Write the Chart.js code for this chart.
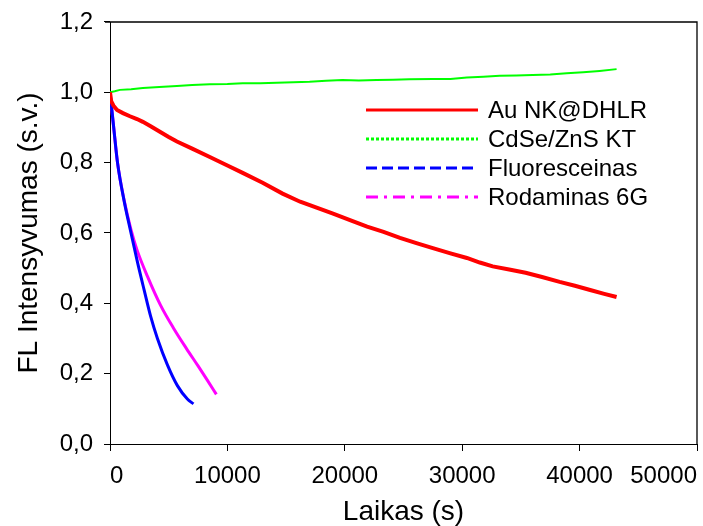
<!DOCTYPE html>
<html>
<head>
<meta charset="utf-8">
<script src="https://cdn.jsdelivr.net/npm/chart.js@4/dist/chart.umd.min.js"></script>
<style>
  html, body { margin: 0; padding: 0; background: #ffffff; }
  #wrap { width: 703px; height: 526px; }
</style>
</head>
<body>
<div id="wrap"><canvas id="c" width="703" height="526"></canvas></div>
<script>
// ---- data ----
const seriesNames = ['Au NK@DHLR', 'CdSe/ZnS KT', 'Fluoresceinas', 'Rodaminas 6G'];

const auTime  = [0, 100, 300, 600, 1100, 1700, 2300, 2800, 3500, 4250, 5000, 5700, 7000, 8500, 10000, 11300, 13000, 14700, 16200, 17600, 19000, 20500, 21900, 23300, 24700, 26100, 27500, 29000, 30400, 31500, 32600, 34000, 35400, 36800, 38300, 39600, 40900, 42100, 43150];
const auValue = [1.0, 0.975, 0.962, 0.950, 0.941, 0.932, 0.924, 0.916, 0.903, 0.888, 0.873, 0.860, 0.840, 0.816, 0.792, 0.771, 0.743, 0.712, 0.689, 0.672, 0.655, 0.636, 0.618, 0.603, 0.586, 0.571, 0.557, 0.542, 0.529, 0.516, 0.505, 0.496, 0.487, 0.475, 0.461, 0.450, 0.438, 0.427, 0.418];

const qdTime  = [0, 400, 850, 1800, 2800, 4200, 5700, 7000, 8500, 10000, 11300, 12800, 14200, 15600, 17000, 18400, 19800, 21200, 22700, 24100, 25500, 27500, 29000, 30400, 31800, 33200, 34600, 36000, 37500, 38900, 40300, 41700, 43150];
const qdValue = [1.0, 1.003, 1.007, 1.009, 1.012, 1.015, 1.018, 1.021, 1.023, 1.024, 1.026, 1.026, 1.027, 1.029, 1.030, 1.033, 1.035, 1.034, 1.035, 1.036, 1.037, 1.038, 1.038, 1.042, 1.044, 1.047, 1.048, 1.049, 1.051, 1.054, 1.057, 1.061, 1.066];

const flTime  = [0, 300, 640, 1210, 1770, 2340, 2900, 3470, 4040, 4890, 5740, 6590, 7110];
const flValue = [1.0, 0.905, 0.800, 0.690, 0.603, 0.517, 0.439, 0.362, 0.300, 0.225, 0.166, 0.128, 0.114];

const rhTime  = [0, 300, 640, 1210, 1770, 2300, 3200, 4300, 5400, 6500, 7500, 8300, 9060];
const rhValue = [1.0, 0.905, 0.800, 0.692, 0.612, 0.552, 0.476, 0.395, 0.330, 0.272, 0.222, 0.181, 0.141];

const xTickValues = [0, 10000, 20000, 30000, 40000, 50000];
const yTickLabels = ['0,0', '0,2', '0,4', '0,6', '0,8', '1,0', '1,2'];

const xTitle = 'Laikas (s)';
const yTitle = 'FL Intensyvumas (s.v.)';

// ---- styles ----
const colors = ['#ff0000', '#00ff00', '#0000ff', '#ff00ff'];
const widths = [4, 2, 3, 3];
const legendDash = [[], [3, 2], [11, 5], [12, 6, 3, 6]];
const FONT = 'Arial, "Liberation Sans", sans-serif';

function pts(t, v) { return t.map((x, i) => ({ x: x, y: v[i] })); }

const overlayPlugin = {
  id: 'overlayFrameLegend',
  afterDraw(chart) {
    const ctx = chart.ctx;
    const xs = chart.scales.x, ys = chart.scales.y;
    const L = xs.getPixelForValue(xTickValues[0]);
    const R = xs.getPixelForValue(xTickValues[xTickValues.length - 1]);
    const T = ys.getPixelForValue(1.2), B = ys.getPixelForValue(0);
    ctx.save();
    ctx.setLineDash([]);
    ctx.strokeStyle = '#000000';
    ctx.lineWidth = 1.3;
    ctx.beginPath();
    ctx.moveTo(L - 5, T);
    ctx.lineTo(R, T);
    ctx.lineTo(R, B);
    ctx.stroke();

    const x0 = 366, x1 = 478, tx = 488;
    const rows = [110, 139, 168, 197];
    chart.data.datasets.forEach((ds, i) => {
      const y = rows[i];
      ctx.beginPath();
      ctx.setLineDash(legendDash[i]);
      ctx.strokeStyle = ds.borderColor;
      ctx.lineWidth = 3;
      ctx.moveTo(x0, y);
      ctx.lineTo(x1, y);
      ctx.stroke();
      ctx.setLineDash([]);
      ctx.fillStyle = '#000';
      ctx.font = '24px ' + FONT;
      ctx.textBaseline = 'middle';
      ctx.textAlign = 'left';
      ctx.fillText(ds.label, tx, y + 1);
    });
    ctx.restore();
  }
};

const datasets = [
  { label: seriesNames[0], data: pts(auTime, auValue) },
  { label: seriesNames[1], data: pts(qdTime, qdValue) },
  { label: seriesNames[2], data: pts(flTime, flValue), cubicInterpolationMode: 'monotone' },
  { label: seriesNames[3], data: pts(rhTime, rhValue), cubicInterpolationMode: 'monotone' }
].map((d, i) => Object.assign({
  borderColor: colors[i],
  backgroundColor: colors[i],
  borderWidth: widths[i],
  pointRadius: 0,
  showLine: true,
  fill: false,
  tension: 0
}, d));

new Chart(document.getElementById('c'), {
  type: 'scatter',
  data: { datasets: datasets },
  options: {
    responsive: false,
    animation: false,
    devicePixelRatio: 1,
    layout: { padding: { top: 22, right: 6, left: 0, bottom: 0 } },
    plugins: { legend: { display: false }, tooltip: { enabled: false } },
    scales: {
      x: {
        type: 'linear',
        position: 'bottom',
        min: 0, max: 50000,
        afterBuildTicks(scale) { scale.ticks = xTickValues.map(v => ({ value: v })); },
        afterFit(scale) { scale.height = 82; scale.paddingLeft = 0; scale.paddingRight = 0; },
        border: { display: true, color: '#000', width: 1 },
        grid: { display: true, drawOnChartArea: false, drawTicks: true, tickLength: 7, color: '#000', tickColor: '#000' },
        ticks: {
          color: '#000', font: { family: FONT, size: 24 }, padding: 11, align: 'inner', maxRotation: 0,
          callback: (v) => String(v)
        },
        title: { display: true, text: xTitle, color: '#000', font: { family: FONT, size: 28, lineHeight: 1 }, padding: { top: 0, bottom: 0 } }
      },
      y: {
        type: 'linear',
        position: 'left',
        min: 0, max: 1.2,
        afterBuildTicks(scale) { scale.ticks = yTickLabels.map((_, i) => ({ value: i * 0.2 })); },
        afterFit(scale) { scale.width = 110; scale.paddingTop = 0; scale.paddingBottom = 0; },
        border: { display: true, color: '#000', width: 1 },
        grid: { display: true, drawOnChartArea: false, drawTicks: true, tickLength: 6, color: '#000', tickColor: '#000' },
        ticks: {
          color: '#000', font: { family: FONT, size: 24 }, padding: 11,
          callback: (v, i) => yTickLabels[i]
        },
        title: { display: true, text: yTitle, color: '#000', font: { family: FONT, size: 28, lineHeight: 1 }, padding: { top: 15, bottom: 0 } }
      }
    }
  },
  plugins: [overlayPlugin]
});
</script>
</body>
</html>
